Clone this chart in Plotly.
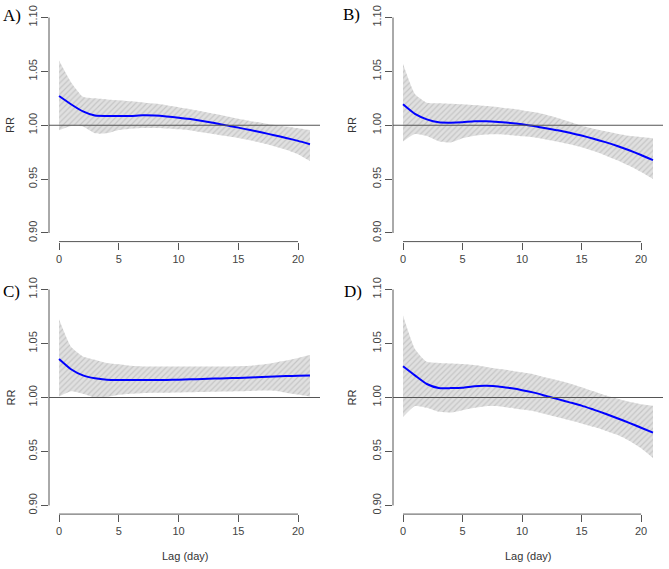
import plotly.graph_objects as go

lags = list(range(22))

rr_a = [1.0271, 1.0195, 1.0128, 1.0090, 1.0086, 1.0086, 1.0087, 1.0092, 1.0090, 1.0082, 1.0070,
        1.0057, 1.0040, 1.0020, 0.9999, 0.9978, 0.9955, 0.9932, 0.9908, 0.9882, 0.9855, 0.9824]
hi_a = [1.060, 1.040, 1.0265, 1.025, 1.024, 1.0232, 1.0222, 1.0212, 1.0201, 1.0186, 1.0168,
        1.0149, 1.0128, 1.0106, 1.0083, 1.006, 1.004, 1.0022, 1.0005, 0.9988, 0.9972, 0.9955]
lo_a = [0.9954, 0.9994, 0.9988, 0.9925, 0.9925, 0.9955, 0.9968, 0.9974, 0.9975, 0.9970, 0.9962,
        0.9952, 0.9935, 0.9917, 0.9900, 0.9882, 0.9860, 0.9835, 0.9805, 0.9772, 0.9730, 0.9667]

rr_b = [1.0194, 1.0105, 1.0055, 1.0027, 1.0024, 1.0028, 1.0038, 1.0036, 1.0030, 1.0022, 1.0009,
        0.9992, 0.9972, 0.9953, 0.9930, 0.9904, 0.9875, 0.9843, 0.9808, 0.9768, 0.9724, 0.9676]
hi_b = [1.057, 1.029, 1.021, 1.0205, 1.0200, 1.0195, 1.0187, 1.0178, 1.0168, 1.0155, 1.0140,
        1.0122, 1.0098, 1.0068, 1.0032, 0.9995, 0.9968, 0.9945, 0.9922, 0.9902, 0.9890, 0.9880]
lo_b = [0.985, 0.9918, 0.9900, 0.9852, 0.9840, 0.9880, 0.9903, 0.9914, 0.9916, 0.9908, 0.9898,
        0.9888, 0.9868, 0.9847, 0.9823, 0.9795, 0.9760, 0.9720, 0.9675, 0.9623, 0.9565, 0.9500]

rr_c = [1.0357, 1.0262, 1.0205, 1.0178, 1.0165, 1.0162, 1.0162, 1.0162, 1.0162, 1.0163, 1.0165,
        1.0168, 1.0171, 1.0175, 1.0178, 1.0181, 1.0185, 1.0189, 1.0194, 1.0198, 1.0201, 1.0203]
hi_c = [1.0725, 1.047, 1.038, 1.035, 1.032, 1.0308, 1.0294, 1.0288, 1.0287, 1.0287, 1.0287,
        1.0287, 1.0287, 1.0287, 1.0287, 1.029, 1.0295, 1.0305, 1.0322, 1.0342, 1.0366, 1.0393]
lo_c = [1.001, 1.0058, 1.0035, 1.0000, 1.0004, 1.0025, 1.0035, 1.0040, 1.0043, 1.0045, 1.0047,
        1.0049, 1.0051, 1.0053, 1.0055, 1.0058, 1.0061, 1.0064, 1.0062, 1.0045, 1.0028, 1.001]

rr_d = [1.0289, 1.0205, 1.0125, 1.0088, 1.0087, 1.0090, 1.0105, 1.0108, 1.0103, 1.0087, 1.0068,
        1.0045, 1.0015, 0.9985, 0.9955, 0.9925, 0.9888, 0.9850, 0.9808, 0.9765, 0.9720, 0.9675]
hi_d = [1.076, 1.045, 1.033, 1.032, 1.0315, 1.031, 1.030, 1.0283, 1.0266, 1.0250, 1.0233,
        1.0214, 1.0185, 1.0160, 1.0130, 1.0095, 1.0057, 1.0020, 0.9990, 0.9960, 0.9938, 0.9923]
lo_d = [0.982, 0.9921, 0.9905, 0.9868, 0.9860, 0.9882, 0.9905, 0.9920, 0.9920, 0.9905, 0.9888,
        0.9872, 0.9845, 0.9818, 0.9790, 0.9760, 0.9728, 0.9693, 0.9655, 0.9600, 0.9530, 0.9440]

panel_labels = ["A)", "B)", "C)", "D)"]
y_ticks = [0.90, 0.95, 1.00, 1.05, 1.10]
x_ticks = [0, 5, 10, 15, 20]
ref_rr = 1.0

panels = [(rr_a, hi_a, lo_a), (rr_b, hi_b, lo_b), (rr_c, hi_c, lo_c), (rr_d, hi_d, lo_d)]

W, H = 669, 569
# pixel layout of plot regions
x_dom_px = [(49, 320), (393, 663), (49, 320), (393, 663)]
y_dom_px = [(8.9, 241.6), (8.9, 241.6), (280.9, 514.1), (280.9, 514.1)]
label_pos = [(12, 15), (351, 14), (11, 291), (353, 291)]
rr_pos = [(10, 125), (352, 125), (10, 397.5), (351, 397.5)]

fig = go.Figure()
axis_col = "#555555"
font_fam = "Liberation Sans, Arial, sans-serif"

shapes = []
annotations = []
for i, (rr, hi, lo) in enumerate(panels):
    n = i + 1
    xs = "x" if n == 1 else f"x{n}"
    ys = "y" if n == 1 else f"y{n}"
    fig.add_trace(go.Scatter(x=lags, y=hi, mode="lines",
                             line=dict(width=0, color="rgba(0,0,0,0)", shape="spline", smoothing=0.5),
                             xaxis=xs, yaxis=ys, showlegend=False, hoverinfo="skip"))
    fig.add_trace(go.Scatter(x=lags, y=lo, mode="lines",
                             line=dict(width=0, color="rgba(0,0,0,0)", shape="spline", smoothing=0.5),
                             fill="tonexty", fillcolor="#dcdcdc",
                             fillpattern=dict(shape="/", bgcolor="#e0e0e0", fgcolor="#aaaaaa",
                                              size=4, solidity=0.3),
                             xaxis=xs, yaxis=ys, showlegend=False, hoverinfo="skip"))
    fig.add_trace(go.Scatter(x=lags, y=rr, mode="lines",
                             line=dict(width=2, color="#0000ff", shape="spline", smoothing=0.5),
                             xaxis=xs, yaxis=ys, showlegend=False))

    xd = [x_dom_px[i][0] / W, x_dom_px[i][1] / W]
    yd = [1 - y_dom_px[i][1] / H, 1 - y_dom_px[i][0] / H]
    xkey = "xaxis" if n == 1 else f"xaxis{n}"
    ykey = "yaxis" if n == 1 else f"yaxis{n}"
    fig.update_layout(**{
        xkey: dict(domain=xd, range=[-0.84, 21.84], anchor=ys, tickvals=x_ticks,
                   ticks="outside", ticklen=7, tickcolor=axis_col, tickwidth=1,
                   showgrid=False, zeroline=False, showline=False, automargin=False,
                   tickfont=dict(family=font_fam, size=11, color="#444444")),
        ykey: dict(domain=yd, range=[0.892, 1.108], anchor=xs, tickvals=y_ticks,
                   tickformat=".2f", tickangle=-90, automargin=False,
                   ticks="outside", ticklen=7, tickcolor=axis_col, tickwidth=1,
                   showgrid=False, zeroline=False, showline=False,
                   tickfont=dict(family=font_fam, size=11, color="#444444")),
    })
    # axis lines spanning tick range (R style)
    shapes.append(dict(type="line", xref=f"{xs} domain", yref=ys, x0=0, x1=0,
                       y0=min(y_ticks), y1=max(y_ticks), line=dict(color=axis_col, width=1)))
    shapes.append(dict(type="line", xref=xs, yref=f"{ys} domain", x0=min(x_ticks), x1=max(x_ticks),
                       y0=0, y1=0, line=dict(color=axis_col, width=1)))
    # reference line RR = 1
    shapes.append(dict(type="line", xref=f"{xs} domain", yref=ys, x0=0, x1=1,
                       y0=ref_rr, y1=ref_rr, line=dict(color="#555555", width=1.2)))

    lx, ly = label_pos[i]
    annotations.append(dict(text=panel_labels[i], xref="paper", yref="paper", x=lx / W, y=1 - ly / H,
                            showarrow=False, xanchor="center", yanchor="middle",
                            font=dict(family="Liberation Serif, Times New Roman, serif", size=17, color="#000000")))
    rx, ry = rr_pos[i]
    annotations.append(dict(text="RR", xref="paper", yref="paper", x=rx / W, y=1 - ry / H,
                            showarrow=False, textangle=-90, xanchor="center", yanchor="middle",
                            font=dict(family=font_fam, size=11, color="#333333")))
    if n >= 3:
        cx = (x_dom_px[i][0] + x_dom_px[i][1]) / 2
        annotations.append(dict(text="Lag (day)", xref="paper", yref="paper", x=cx / W, y=1 - 556 / H,
                                showarrow=False, xanchor="center", yanchor="middle",
                                font=dict(family=font_fam, size=11, color="#333333")))

fig.update_layout(width=W, height=H, margin=dict(l=0, r=0, t=0, b=0, autoexpand=False),
                  paper_bgcolor="white", plot_bgcolor="white",
                  shapes=shapes, annotations=annotations)

fig.write_html("out.html", config={"displayModeBar": False},
               post_script="document.body.style.margin='0';document.body.style.overflow='hidden';")
